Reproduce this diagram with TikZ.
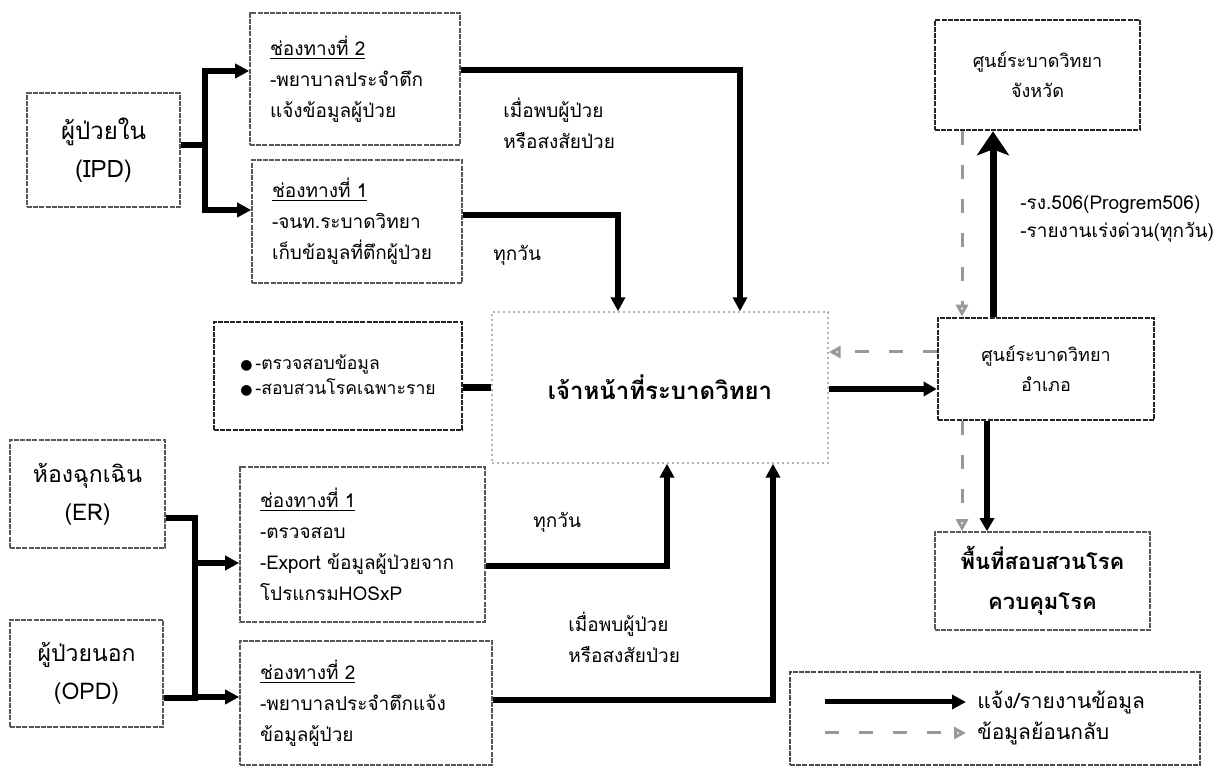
\documentclass[tikz,border=0pt]{standalone}
\usepackage{fontspec}
\setmainfont[Script=Thai]{Loma}
\newfontfamily\dejavu{DejaVu Sans}
\usetikzlibrary{arrows.meta}
\begin{document}
\begin{tikzpicture}[x=0.5pt,y=-0.5pt,
  box/.style={draw=black!65, line width=0.8pt, dash pattern=on 2.5pt off 0.6pt, fill=white, inner sep=0pt, align=center},
  darkbox/.style={box, draw=black!85, line width=1.3pt},
  faintbox/.style={box, draw=black!30, line width=0.7pt, dash pattern=on 1pt off 1.5pt},
  chbox/.style={box, align=left, inner xsep=10pt, inner ysep=0pt},
  txt/.style={inner sep=0pt, anchor=west, align=left},
  flow/.style={line width=3pt, -{Triangle[length=7pt,width=7pt]}},
  flowthin/.style={line width=2.6pt, -{Triangle[length=6.5pt,width=7pt]}},
  bar/.style={line width=3pt},
  fb/.style={draw=black!40, line width=1.5pt, dash pattern=on 7pt off 10pt, -{Triangle[open,length=6pt,width=6pt]}},
  big/.style={font=\fontsize{12}{19}\selectfont},
  mid/.style={font=\fontsize{9.5}{15.5}\selectfont},
  ctr/.style={font=\fontsize{9}{15}\selectfont}]
\useasboundingbox (0,0) rectangle (1222,769);
\fill[white] (0,0) rectangle (1222,769);

% left top
\node[box, big, minimum width=76.5pt, minimum height=57pt] (ipd) at (103.5,150) {ผู้ป่วยใน\\(IPD)};
\node[chbox, mid, text width=85pt, minimum height=66pt] (ch2a) at (355,79) {\underline{ช่องทางที่ 2}\\-พยาบาลประจำตึก\\แจ้งข้อมูลผู้ป่วย};
\node[chbox, mid, text width=85pt, minimum height=61.5pt] (ch1a) at (357,221.5) {\underline{ช่องทางที่ 1}\\-จนท.ระบาดวิทยา\\เก็บข้อมูลที่ตึกผู้ป่วย};

% center
\node[faintbox, minimum width=168pt, minimum height=75.5pt, font=\fontsize{12}{16}\selectfont\bfseries] (cen) at (660,387.5) {เจ้าหน้าที่ระบาดวิทยา};
\node[darkbox, align=left, minimum width=124pt, minimum height=54pt, font=\fontsize{8.8}{12.5}\selectfont] (chk) at (338,376) {{\dejavu\fontsize{7}{12.5}\selectfont ●}\,-ตรวจสอบข้อมูล\\{\dejavu\fontsize{7}{12.5}\selectfont ●}\,-สอบสวนโรคเฉพาะราย};

% right
\node[darkbox, ctr, minimum width=102.5pt, minimum height=55pt] (prov) at (1037.5,75) {ศูนย์ระบาดวิทยา\\จังหวัด};
\node[darkbox, ctr, minimum width=108pt, minimum height=51pt] (amp) at (1046,369) {ศูนย์ระบาดวิทยา\\อำเภอ};
\node[box, minimum width=107.5pt, minimum height=49pt, font=\fontsize{11}{20}\selectfont\bfseries] (area) at (1042.5,581) {พื้นที่สอบสวนโรค\\ควบคุมโรค};

% left bottom
\node[box, font=\fontsize{11.5}{19}\selectfont, minimum width=77.5pt, minimum height=54pt] (er) at (87.5,494) {ห้องฉุกเฉิน\\(ER)};
\node[box, font=\fontsize{11.5}{19}\selectfont, minimum width=76.5pt, minimum height=53.5pt] (opd) at (86.5,673.5) {ผู้ป่วยนอก\\(OPD)};
\node[chbox, mid, text width=102.5pt, minimum height=77.5pt] (ch1b) at (362.5,544.5) {\underline{ช่องทางที่ 1}\\-ตรวจสอบ\\-Export ข้อมูลผู้ป่วยจาก\\โปรแกรมHOSxP};
\node[chbox, mid, text width=106pt, minimum height=62pt] (ch2b) at (366,703) {\underline{ช่องทางที่ 2}\\-พยาบาลประจำตึกแจ้ง\\ข้อมูลผู้ป่วย};

% legend
\node[darkbox, draw=black!70, line width=1pt, minimum width=205pt, minimum height=46.5pt] (leg) at (995,718.5) {};
\coordinate (lga) at (825,702);
\coordinate (lgb) at (966,702);
\coordinate (lgc) at (825,733);
\coordinate (lgd) at (966,733);
\draw[line width=2.5pt, -{Triangle[length=7pt,width=7pt]}] (lga) -- (lgb);
\draw[fb] (lgc) -- (lgd);
\node[txt, font=\fontsize{10.5}{15}\selectfont] (lgt1) at (977,702) {แจ้ง/รายงานข้อมูล};
\node[txt, font=\fontsize{10.5}{15}\selectfont] (lgt2) at (977,733) {ข้อมูลย้อนกลับ};

% labels
\node[txt, mid] (lab1) at (503,123) {เมื่อพบผู้ป่วย\\หรือสงสัยป่วย};
\node[txt, mid] (lab2) at (493,255) {ทุกวัน};
\node[txt, mid] (lab3) at (533,522) {ทุกวัน};
\node[txt, mid] (lab4) at (568,637) {เมื่อพบผู้ป่วย\\หรือสงสัยป่วย};
\node[txt, font=\fontsize{9.5}{14}\selectfont] (lab5) at (1020,219) {-รง.506(Progrem506)\\-รายงานเร่งด่วน(ทุกวัน)};

% IPD connectors
\coordinate (j1) at (205,145);
\draw[bar, line width=2.8pt] (ipd.east |- j1) -- (j1);
\draw[line width=2.8pt, -{Triangle[length=7pt,width=7pt]}] (j1) |- (ch2a.west |- 0,71);
\draw[line width=2.8pt, -{Triangle[length=7pt,width=7pt]}] (j1) |- (ch1a.west |- 0,210);

% top channels to centre
\draw[flow] (ch2a.east |- 0,70) -| (cen.north -| 740,0);
\draw[flow] (ch1a.east |- 0,215) -| (cen.north -| 618,0);

% check box to centre
\draw[bar, line width=3.5pt] (chk.east |- 0,388) -- (cen.west |- 0,388);

% centre to amphoe
\draw[flowthin] (cen.east |- 0,389) -- (amp.west |- 0,389);

% amphoe to province / area
\draw[line width=3.5pt, -{Stealth[length=12pt,width=16pt,inset=3pt]}] (amp.north -| 993,0) -- (prov.south -| 993,0);
\draw[flowthin] (amp.south -| 987,0) -- (area.north -| 987,0);

% feedback
\draw[fb] (prov.south -| 962,0) -- (amp.north -| 962,0);
\draw[fb] (amp.west |- 0,352) -- (cen.east |- 0,352);
\draw[fb] (amp.south -| 962,0) -- (area.north -| 962,0);

% ER / OPD connectors
\coordinate (j2) at (195,518);
\coordinate (j3) at (195,698);
\draw[bar, line width=3pt] (er.east |- j2) -- (j2) -- (j3) -- (opd.east |- j3);
\draw[line width=2.6pt, -{Triangle[length=7pt,width=7pt]}] (j2 |- 0,563) -- (ch1b.west |- 0,563);
\draw[line width=2.6pt, -{Triangle[length=7pt,width=7pt]}] (j3 |- 0,697) -- (ch2b.west |- 0,697);

% bottom channels to centre
\draw[flow] (ch1b.east |- 0,566) -| (cen.south -| 667,0);
\draw[flow] (ch2b.east |- 0,700) -| (cen.south -| 773,0);
\end{tikzpicture}
\end{document}
